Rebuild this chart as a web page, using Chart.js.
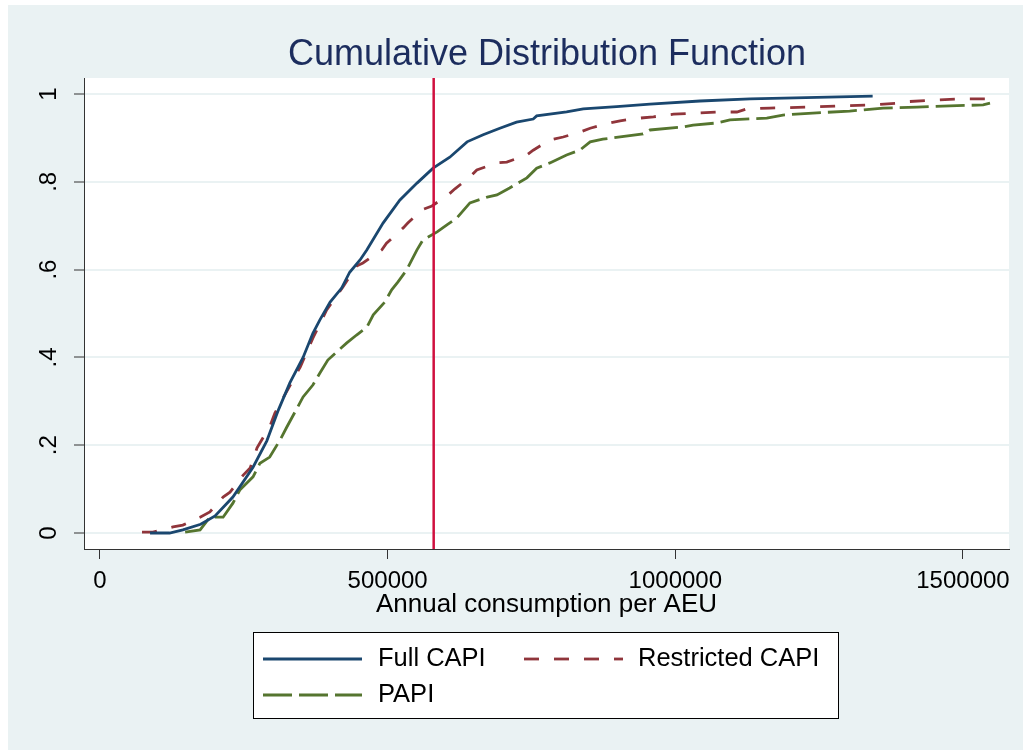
<!DOCTYPE html>
<html>
<head>
<meta charset="utf-8">
<script src="https://cdn.jsdelivr.net/npm/chart.js@4.4.1/dist/chart.umd.min.js"></script>
<style>
  html, body { margin: 0; padding: 0; background: #ffffff; }
  #wrap { position: absolute; left: 8px; top: 5px; width: 1015px; height: 745px; background: #eaf2f3; }
  canvas { display: block; }
</style>
</head>
<body>
<div id="wrap"><canvas id="cdfChart" width="1015" height="745"></canvas></div>
<script>
// Axis setup
const xTicks = [0, 500000, 1000000, 1500000];
const yTicks = [0, 0.2, 0.4, 0.6, 0.8, 1];
const yTickLabels = ['0', '.2', '.4', '.6', '.8', '1'];
const xMin = -27800, xMax = 1580000;
const yMin = -0.0364, yMax = 1.0364;
const povertyLine = 580000; // vertical reference line

// Full CAPI
const fullCapiX = [87000, 121000, 144000, 175000, 200000, 231000, 266000, 290000, 310000, 330000,
  353000, 370000, 382000, 400000, 420000, 434000, 452000, 464000, 492000, 521000,
  551000, 579000, 608000, 638000, 666000, 695000, 724000, 753000, 759000, 811000,
  840000, 898000, 956000, 1043000, 1130000, 1343000];
const fullCapiY = [0, 0, 0.007, 0.02, 0.039, 0.082, 0.15, 0.21, 0.28, 0.342,
  0.40, 0.455, 0.485, 0.526, 0.558, 0.594, 0.622, 0.645, 0.706, 0.758,
  0.797, 0.831, 0.856, 0.891, 0.907, 0.922, 0.936, 0.943, 0.950, 0.959,
  0.966, 0.971, 0.977, 0.984, 0.989, 0.995];

// Restricted CAPI
const restrictedX = [73000, 92000, 127000, 144000, 174000, 191000, 214000, 226000, 249000, 261000,
  273000, 281000, 295000, 304000, 321000, 348000, 370000, 394000, 422000, 446000,
  457000, 490000, 498000, 527000, 535000, 559000, 577000, 605000, 617000, 643000,
  655000, 690000, 707000, 742000, 753000, 782000, 805000, 834000, 852000, 886000,
  904000, 938000, 962000, 997000, 1072000, 1107000, 1124000, 1164000, 1229000, 1286000,
  1338000, 1385000, 1396000, 1448000, 1500000, 1545000];
const restrictedY = [0.002, 0.002, 0.014, 0.018, 0.036, 0.048, 0.082, 0.093, 0.132, 0.148,
  0.194, 0.212, 0.242, 0.273, 0.314, 0.378, 0.444, 0.508, 0.56, 0.608,
  0.615, 0.645, 0.66, 0.695, 0.706, 0.736, 0.745, 0.77, 0.784, 0.811,
  0.827, 0.843, 0.845, 0.861, 0.872, 0.895, 0.902, 0.913, 0.922, 0.934,
  0.939, 0.945, 0.948, 0.954, 0.959, 0.959, 0.966, 0.968, 0.970, 0.973,
  0.975, 0.979, 0.982, 0.986, 0.989, 0.989];

// PAPI
const papiX = [148000, 174000, 191000, 214000, 231000, 243000, 266000, 278000, 295000, 313000,
  325000, 342000, 353000, 370000, 382000, 396000, 411000, 429000, 446000, 464000,
  475000, 495000, 507000, 518000, 533000, 551000, 561000, 586000, 603000, 620000,
  643000, 673000, 690000, 712000, 742000, 759000, 782000, 811000, 834000, 852000,
  874000, 944000, 956000, 1014000, 1031000, 1072000, 1095000, 1159000, 1187000, 1246000,
  1303000, 1361000, 1420000, 1477000, 1535000, 1547000];
const papiY = [0.002, 0.007, 0.036, 0.036, 0.068, 0.098, 0.128, 0.159, 0.173, 0.212,
  0.242, 0.283, 0.31, 0.337, 0.364, 0.394, 0.412, 0.433, 0.451, 0.469,
  0.497, 0.526, 0.554, 0.572, 0.599, 0.645, 0.667, 0.686, 0.702, 0.717,
  0.752, 0.765, 0.770, 0.786, 0.809, 0.831, 0.843, 0.861, 0.872, 0.891,
  0.897, 0.909, 0.918, 0.925, 0.929, 0.934, 0.941, 0.945, 0.952, 0.957,
  0.961, 0.968, 0.970, 0.973, 0.975, 0.979];

const FONT = '"Liberation Sans", Arial, sans-serif';

function toPoints(xs, ys) {
    return xs.map((x, i) => ({ x: x, y: ys[i] }));
}

// Backgrounds, title, rotated y labels, axis title and the boxed legend
const stataDecor = {
    id: 'stataDecor',
    beforeDraw(chart) {
        const { ctx, chartArea } = chart;
        ctx.save();
        ctx.fillStyle = '#ffffff';
        ctx.fillRect(chartArea.left, chartArea.top, chartArea.right - chartArea.left, chartArea.bottom - chartArea.top);
        ctx.restore();
    },
    afterDraw(chart) {
        const { ctx, chartArea } = chart;
        const yScale = chart.scales.y;
        ctx.save();

        // title
        ctx.fillStyle = '#1c2d5e';
        ctx.font = '36px ' + FONT;
        ctx.textAlign = 'center';
        ctx.textBaseline = 'middle';
        ctx.fillText('Cumulative Distribution Function', 539, 50);

        // y tick labels, rotated
        ctx.fillStyle = '#000000';
        ctx.font = '24px ' + FONT;
        yTicks.forEach((v, i) => {
            const py = yScale.getPixelForValue(v);
            ctx.save();
            ctx.translate(41, py);
            ctx.rotate(-Math.PI / 2);
            ctx.fillText(yTickLabels[i], 0, 0);
            ctx.restore();
        });

        // x axis title
        ctx.font = '26px ' + FONT;
        ctx.fillText('Annual consumption per AEU', (chartArea.left + chartArea.right) / 2, 600);

        // legend
        const box = { x: 245.5, y: 627.5, w: 585, h: 86 };
        ctx.fillStyle = '#ffffff';
        ctx.fillRect(box.x, box.y, box.w, box.h);
        ctx.strokeStyle = '#000000';
        ctx.lineWidth = 1;
        ctx.strokeRect(box.x, box.y, box.w, box.h);

        const slots = [
            { sx: 255, tx: 370, y: 654 },
            { sx: 516, tx: 630, y: 654 },
            { sx: 255, tx: 370, y: 690 }
        ];
        ctx.font = '25.5px ' + FONT;
        ctx.textAlign = 'left';
        chart.data.datasets.filter(d => d.inLegend).forEach((d, i) => {
            const s = slots[i];
            ctx.strokeStyle = d.borderColor;
            ctx.lineWidth = d.borderWidth;
            ctx.setLineDash(d.borderDash || []);
            ctx.beginPath();
            ctx.moveTo(s.sx, s.y);
            ctx.lineTo(s.sx + 99, s.y);
            ctx.stroke();
            ctx.setLineDash([]);
            ctx.fillStyle = '#000000';
            ctx.fillText(d.label, s.tx, s.y);
        });
        ctx.restore();
    }
};

const ctx = document.getElementById('cdfChart').getContext('2d');
new Chart(ctx, {
    type: 'line',
    data: {
        datasets: [
            {
                label: 'Poverty line',
                data: [{ x: povertyLine, y: yMin }, { x: povertyLine, y: yMax }],
                borderColor: '#d0103f',
                borderWidth: 2.5,
                pointRadius: 0,
                inLegend: false
            },
            {
                label: 'Full CAPI',
                data: toPoints(fullCapiX, fullCapiY),
                borderColor: '#1a476f',
                borderWidth: 2.8,
                pointRadius: 0,
                inLegend: true
            },
            {
                label: 'Restricted CAPI',
                data: toPoints(restrictedX, restrictedY),
                borderColor: '#90353b',
                borderWidth: 2.8,
                borderDash: [15, 15],
                pointRadius: 0,
                inLegend: true
            },
            {
                label: 'PAPI',
                data: toPoints(papiX, papiY),
                borderColor: '#55752f',
                borderWidth: 2.8,
                borderDash: [29, 7],
                pointRadius: 0,
                inLegend: true
            }
        ]
    },
    options: {
        responsive: false,
        animation: false,
        layout: { padding: { top: 73, right: 14, left: 0, bottom: 0 } },
        plugins: {
            legend: { display: false },
            title: { display: false },
            tooltip: { enabled: false }
        },
        scales: {
            x: {
                type: 'linear',
                min: xMin,
                max: xMax,
                afterBuildTicks: scale => { scale.ticks = xTicks.map(v => ({ value: v })); },
                afterFit: scale => { scale.height = 201; },
                ticks: {
                    color: '#000000',
                    font: { family: FONT, size: 24 },
                    padding: 8,
                    maxRotation: 0,
                    callback: v => String(v)
                },
                grid: {
                    drawOnChartArea: false,
                    drawTicks: true,
                    tickLength: 10,
                    tickColor: '#333333',
                    tickWidth: 1
                },
                border: { display: true, color: '#333333', width: 1 }
            },
            y: {
                type: 'linear',
                min: yMin,
                max: yMax,
                afterBuildTicks: scale => { scale.ticks = yTicks.map(v => ({ value: v })); },
                afterFit: scale => { scale.width = 76; },
                ticks: { display: false },
                grid: {
                    color: '#eaf2f3',
                    lineWidth: 2,
                    drawTicks: true,
                    tickLength: 10,
                    tickColor: '#333333',
                    tickWidth: 1
                },
                border: { display: true, color: '#333333', width: 1 }
            }
        }
    },
    plugins: [stataDecor]
});
</script>
</body>
</html>
